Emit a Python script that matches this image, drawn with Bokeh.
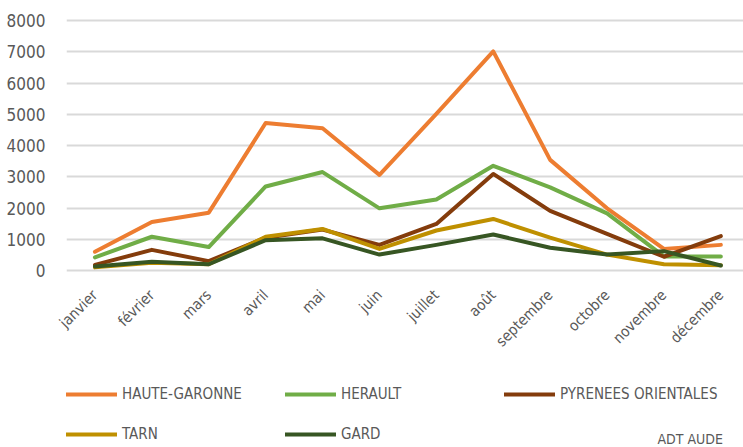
from math import pi
from bokeh.plotting import figure
from bokeh.layouts import column
from bokeh.models import (ColumnDataSource, Range1d, FixedTicker, Legend, LegendItem, Label)
from bokeh.embed import file_html
from bokeh.resources import INLINE

months = ["janvier", "février", "mars", "avril", "mai", "juin", "juillet",
          "août", "septembre", "octobre", "novembre", "décembre"]

haute_garonne = [600, 1550, 1850, 4720, 4550, 3060, 5010, 7010, 3540, 1990, 690, 820]
herault = [420, 1080, 750, 2690, 3150, 1990, 2270, 3350, 2660, 1830, 450, 450]
pyrenees_orientales = [180, 660, 300, 1050, 1310, 820, 1490, 3090, 1910, 1170, 440, 1100]
tarn = [100, 250, 200, 1080, 1330, 690, 1280, 1650, 1050, 510, 200, 170]
gard = [130, 280, 200, 970, 1030, 510, 820, 1150, 730, 510, 620, 160]

series_names = ["HAUTE-GARONNE", "HERAULT", "PYRENEES ORIENTALES", "TARN", "GARD"]
series_values = [haute_garonne, herault, pyrenees_orientales, tarn, gard]
series_colors = ["#ED7D31", "#70AD47", "#843C0C", "#BF9000", "#375623"]

y_ticks = [0, 1000, 2000, 3000, 4000, 5000, 6000, 7000, 8000]
source_note = "ADT AUDE"

FONT = "DejaVu Sans Condensed, Roboto, sans-serif"
TXT = "#595959"

W = 743
H1, H2 = 364, 83
LEFT, TOP, BOTTOM = 66, 14, 90
frame_w = W - LEFT
step_px = 56.9

src = ColumnDataSource(dict(x=list(range(len(months))),
                            **{f"s{i}": v for i, v in enumerate(series_values)}))

p = figure(width=W, height=H1, output_backend="svg", toolbar_location=None,
           x_range=Range1d(-0.5, -0.5 + frame_w / step_px),
           y_range=Range1d(-128, 8192),
           min_border_left=LEFT, min_border_right=0, min_border_top=TOP,
           min_border_bottom=BOTTOM)
p.outline_line_color = None
p.background_fill_color = "white"
p.border_fill_color = "white"

for i, col in enumerate(series_colors):
    p.line(x="x", y=f"s{i}", source=src, line_color=col, line_width=4,
           line_join="round", line_cap="round")

p.xaxis.ticker = FixedTicker(ticks=list(range(len(months))))
p.xaxis.major_label_overrides = {i: m for i, m in enumerate(months)}
p.xaxis.major_label_orientation = pi / 4
p.xaxis.axis_line_color = None
p.xaxis.major_tick_line_color = None
p.xaxis.minor_tick_line_color = None
p.xaxis.major_tick_out = 0
p.xaxis.major_label_standoff = 18
p.xaxis.major_label_text_font = FONT
p.xaxis.major_label_text_font_size = "15px"
p.xaxis.major_label_text_color = TXT

p.yaxis.ticker = FixedTicker(ticks=y_ticks)
p.yaxis.axis_line_color = None
p.yaxis.major_tick_line_color = None
p.yaxis.minor_tick_line_color = None
p.yaxis.major_tick_out = 0
p.yaxis.major_label_standoff = 21
p.yaxis.major_label_text_font = FONT
p.yaxis.major_label_text_font_size = "17px"
p.yaxis.major_label_text_color = TXT
p.yaxis.formatter.use_scientific = False

p.xgrid.grid_line_color = None
p.ygrid.grid_line_color = "#d9d9d9"
p.ygrid.grid_line_width = 2

# legend strip: a second figure without axes; its lines share the data but lie out of view
q = figure(width=W, height=H2, output_backend="svg", toolbar_location=None,
           x_axis_location=None, y_axis_location=None,
           x_range=Range1d(0, 1), y_range=Range1d(-2, -1),
           min_border_left=0, min_border_right=0, min_border_top=0, min_border_bottom=0)
q.grid.visible = False
q.outline_line_color = None
q.background_fill_color = "white"
q.border_fill_color = "white"

items = []
for i, (name, col) in enumerate(zip(series_names, series_colors)):
    r = q.line(x="x", y=f"s{i}", source=src, line_color=col, line_width=4, line_cap="round")
    items.append(LegendItem(label=name, renderers=[r]))

legend = Legend(items=items, ncols=3, orientation="horizontal",
                location=(0, 3), padding=0, margin=0, spacing=20,
                glyph_width=51, glyph_height=20, label_height=20, label_width=143,
                label_standoff=5, border_line_alpha=0, background_fill_alpha=0,
                label_text_font=FONT, label_text_font_size="15px",
                label_text_color=TXT)
q.add_layout(legend, "center")

q.add_layout(Label(x=591, y=1, x_units="screen", y_units="screen",
                   text=source_note, text_font=FONT, text_font_size="14px",
                   text_color=TXT, text_baseline="bottom"))

open("out.html", "w").write(file_html(column(p, q, spacing=0), INLINE))
